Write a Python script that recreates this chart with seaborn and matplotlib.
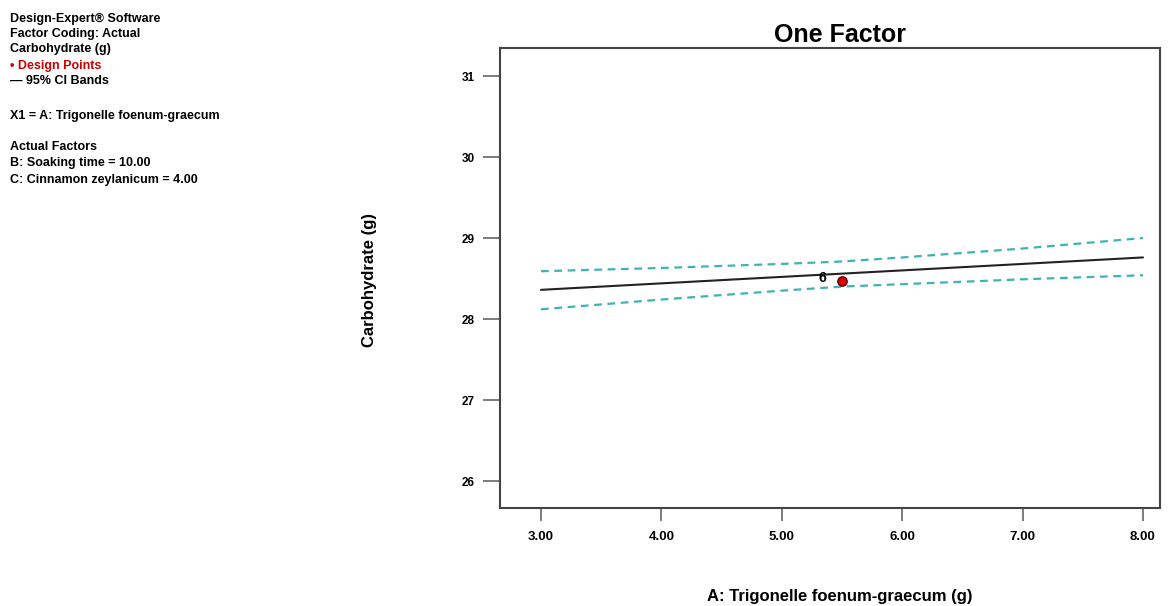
import matplotlib
matplotlib.use("Agg")
import matplotlib.pyplot as plt
import seaborn as sns
import pandas as pd

# ---- data ----
x_vals = [3.0, 4.0, 5.0, 5.5, 6.0, 7.0, 8.0]
predicted = [28.36, 28.44, 28.52, 28.56, 28.60, 28.68, 28.76]
ci_upper = [28.59, 28.63, 28.68, 28.71, 28.76, 28.87, 29.00]
ci_lower = [28.12, 28.24, 28.35, 28.40, 28.43, 28.49, 28.54]
design_x = [5.5]
design_y = [28.47]
design_label = ["6"]
x_ticks = [3.0, 4.0, 5.0, 6.0, 7.0, 8.0]
y_ticks = [26, 27, 28, 29, 30, 31]

info_lines = [
    ("Design-Expert® Software", "black"),
    ("Factor Coding: Actual", "black"),
    ("Carbohydrate (g)", "black"),
    ("\u2022 Design Points", "#cc0000"),
    ("\u2014 95% CI Bands", "black"),
    ("X1 = A: Trigonelle foenum-graecum", "black"),
    ("Actual Factors", "black"),
    ("B: Soaking time = 10.00", "black"),
    ("C: Cinnamon zeylanicum = 4.00", "black"),
]
info_y = [19, 34, 49, 66, 81, 116, 147, 163, 180]

sns.set_style("white")
plt.rcParams["font.family"] = ["Liberation Sans", "DejaVu Sans"]
plt.rcParams["text.color"] = "black"
plt.rcParams["axes.labelcolor"] = "black"
plt.rcParams["xtick.labelcolor"] = "black"
plt.rcParams["ytick.labelcolor"] = "black"

W, H = 1171, 606
fig = plt.figure(figsize=(W / 100, H / 100), dpi=100)
ax = fig.add_axes([500 / W, 1 - 508 / H, 660 / W, 460 / H])

df = pd.DataFrame({"x": x_vals, "pred": predicted, "hi": ci_upper, "lo": ci_lower})
teal = "#3fb3b3"
sns.lineplot(data=df, x="x", y="hi", ax=ax, color=teal, linewidth=1.6,
             linestyle=(0, (3.5, 2.5)))
sns.lineplot(data=df, x="x", y="lo", ax=ax, color=teal, linewidth=1.6,
             linestyle=(0, (3.5, 2.5)))
sns.lineplot(data=df, x="x", y="pred", ax=ax, color="#222222", linewidth=1.5)

dp = pd.DataFrame({"x": design_x, "y": design_y})
sns.scatterplot(data=dp, x="x", y="y", ax=ax, color="#dd0000", edgecolor="#550000",
                s=45, linewidth=1.0, zorder=5)
for xv, yv, lab in zip(design_x, design_y, design_label):
    ax.annotate(lab, (xv, yv), xytext=(-14, 2), textcoords="offset points",
                fontsize=10, fontweight="bold", ha="center", va="center")

ax.set_xlim(3 - 41 / 120.4, 8 + 17 / 120.4)
ax.set_ylim(26 - 27 / 81, 31 + 28 / 81)
ax.set_xticks(x_ticks)
ax.set_xticklabels([f"{v:.2f}" for v in x_ticks], fontsize=9.5, fontweight="bold")
ax.set_yticks(y_ticks)
ax.set_yticklabels([f"{v}" for v in y_ticks], fontsize=8.5, fontweight="bold")
ax.tick_params(axis="x", direction="out", length=9.5, width=1.2, color="#666666", pad=7,
               bottom=True)
ax.tick_params(axis="y", direction="out", length=12, width=1.2, color="#666666", pad=6,
               left=True)
for sp in ax.spines.values():
    sp.set_visible(True)
    sp.set_color("#444444")
    sp.set_linewidth(1.5)

ax.set_title("One Factor", fontsize=18, fontweight="bold", pad=4, x=0.515, color="black")
ax.set_xlabel("A: Trigonelle foenum-graecum (g)", fontsize=12, fontweight="bold")
ax.set_ylabel("Carbohydrate (g)", fontsize=12, fontweight="bold")
ax.xaxis.set_label_coords((840 - 500) / 660, (508 - 597) / 460)
ax.xaxis.label.set_va("center")
ax.yaxis.set_label_coords((370 - 500) / 660, (508 - 280) / 460)
ax.yaxis.label.set_va("center")

for (txt, col), yy in zip(info_lines, info_y):
    fig.text(10 / W, 1 - yy / H, txt, fontsize=9, fontweight="bold", color=col,
             ha="left", va="center")

fig.savefig("out.png", dpi=100)
